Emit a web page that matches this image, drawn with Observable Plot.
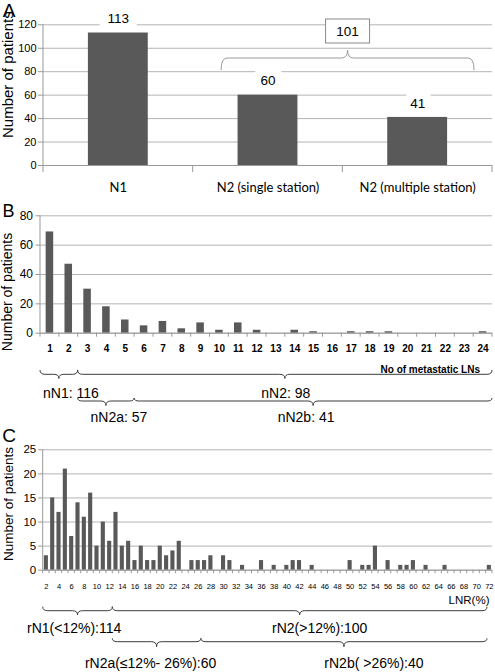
<!DOCTYPE html>
<html>
<head>
<meta charset="utf-8">
<script src="https://cdn.jsdelivr.net/npm/d3@7"></script>
<script src="https://cdn.jsdelivr.net/npm/@observablehq/plot@0.6"></script>
<style>
html,body{margin:0;padding:0;background:#fff;}
#chart{position:relative;width:495px;height:672px;overflow:hidden;background:#fff;}
#chart svg{position:absolute;left:0;overflow:visible;}
</style>
</head>
<body>
<div id="chart"></div>
<script>
// ---------------- data ----------------
// Panel A
const stageCategories = ["N1", "N2 (single station)", "N2 (multiple station)"];
const stagePatients = [113, 60, 41];
const stageGroupTotal = "101";
const stageYTicks = [0, 20, 40, 60, 80, 100, 120];

// Panel B
const lnCategories = [1, 2, 3, 4, 5, 6, 7, 8, 9, 10, 11, 12, 13, 14, 15, 16, 17, 18, 19, 20, 21, 22, 23, 24];
const lnPatients = [69, 47, 30, 18, 9, 5, 8, 3, 7, 2, 7, 2, 0, 2, 1, 0, 1, 1, 1, 0, 0, 0, 0, 1];
const lnYTicks = [0, 20, 40, 60, 80];
const lnAxisTitle = "No of metastatic LNs";
const lnGroupLabels = ["nN1: 116", "nN2: 98", "nN2a: 57", "nN2b: 41"];
const lnGroupFirst = [1, 3, 3, 6];
const lnGroupLast = [2, 24, 5, 24];

// Panel C
const lnrCategories = [2, 3, 4, 5, 6, 7, 8, 9, 10, 11, 12, 13, 14, 15, 16, 17, 18, 19, 20, 21, 22, 23, 24, 25, 26, 27, 28, 29, 30, 31, 32, 33, 34, 35, 36, 37, 38, 39, 40, 41, 42, 43, 44, 45, 46, 47, 48, 49, 50, 51, 52, 53, 54, 55, 56, 57, 58, 59, 60, 61, 62, 63, 64, 65, 66, 67, 68, 69, 70, 71, 72];
const lnrPatients = [
  3, 15, 12, 21, 7, 14, 11, 16, 5, 10,
  6, 12, 5, 6, 2, 5, 2, 2, 5, 3,
  4, 6, 0, 2, 2, 2, 3, 0, 3, 2,
  0, 1, 0, 0, 2, 0, 1, 0, 1, 2,
  2, 0, 1, 0, 0, 0, 0, 0, 2, 0,
  1, 1, 5, 0, 2, 0, 1, 1, 2, 0,
  1, 0, 0, 1, 0, 0, 0, 0, 0, 0,
  1
];
const lnrTickLabels = [2, 4, 6, 8, 10, 12, 14, 16, 18, 20, 22, 24, 26, 28, 30, 32, 34, 36, 38, 40, 42, 44, 46, 48, 50, 52, 54, 56, 58, 60, 62, 64, 66, 68, 70, 72];
const lnrYTicks = [0, 5, 10, 15, 20, 25];
const lnrAxisTitle = "LNR(%)";
const lnrGroupLabels = ["rN1(<12%):114", "rN2(>12%):100", "rN2a(\u226412%- 26%):60", "rN2b( >26%):40"];
const lnrGroupFirst = [2, 13, 13, 27];
const lnrGroupLast = [12, 72, 26, 72];

const yTitle = "Number of patients";
const panelLetters = ["A", "B", "C"];

// ---------------- styling ----------------
const FONT = "Arial, 'Liberation Sans', Helvetica, sans-serif";
const BAR = "#595959";
const GRID = "#b4b4b4";
const AXIS = "#999999";
const BRACE = "#3c3c3c";
const W = 495;
const chart = document.getElementById("chart");

function baseStyle() {
  return {fontFamily: FONT, fontSize: "11px", color: "#000", background: "transparent", overflow: "visible"};
}

function bracePath(xa, xb, xm, yEnd, yMid, yTip, r) {
  return `M${xa},${yEnd}Q${xa},${yMid} ${xa + r},${yMid}H${xm - r}Q${xm},${yMid} ${xm},${yTip}` +
         `Q${xm},${yMid} ${xm + r},${yMid}H${xb - r}Q${xb},${yMid} ${xb},${yEnd}`;
}

// y-axis line + category boundary ticks, using the plot's own scales
function axisDecor(plot, tickLen) {
  const svg = d3.select(plot);
  const X = plot.scale("x"), Y = plot.scale("y");
  const bw = X.bandwidth, step = X.step;
  const center = c => X.apply(c) + bw / 2;
  const x0 = X.range[0];
  const g = svg.append("g").attr("fill", "none").attr("stroke", AXIS);
  g.append("line").attr("x1", x0).attr("x2", x0).attr("y1", Y.apply(0)).attr("y2", Y.range[1]);
  const dom = X.domain;
  const bounds = dom.map(c => center(c) - step / 2).concat([center(dom[dom.length - 1]) + step / 2]);
  g.selectAll(null).data(bounds).join("line")
    .attr("x1", d => d).attr("x2", d => d)
    .attr("y1", Y.apply(0)).attr("y2", Y.apply(0) + tickLen);
  return {svg, X, Y, center, step};
}

const titleOpts = {textAnchor: "middle", lineAnchor: "middle", fill: "#000"};

// ---------------- Panel A ----------------
const dataA = stageCategories.map((c, i) => ({category: c, patients: stagePatients[i]}));
const plotA = Plot.plot({
  width: W, height: 200,
  marginTop: 24.3, marginRight: 3, marginBottom: 35, marginLeft: 43,
  style: baseStyle(),
  x: {domain: stageCategories, paddingInner: 0.6, paddingOuter: 0.3, align: 0.5, round: false, label: null},
  y: {domain: [0, 120], label: null},
  marks: [
    Plot.gridY(stageYTicks, {stroke: GRID, strokeOpacity: 1}),
    Plot.text(dataA, {x: "category", y: "patients", text: d => String(d.patients), dy: -14, fontSize: 13.5, fill: "#fff", stroke: "#fff", strokeWidth: 18}),
    Plot.barY(dataA, {x: "category", y: "patients", fill: BAR}),
    Plot.ruleY([0], {stroke: AXIS}),
    Plot.axisY(stageYTicks, {tickSize: 5, tickPadding: 2, stroke: AXIS, fill: "#000", fontSize: 11, label: null}),
    Plot.axisX({tickSize: 0, tickPadding: 17, fontFamily: "Lato, 'Open Sans', sans-serif", fontSize: 13, fill: "#000", label: null}),
    Plot.text(dataA, {x: "category", y: "patients", text: d => String(d.patients), dy: -14, fontSize: 13.5, fill: "#000"}),
    Plot.text([yTitle], {frameAnchor: "left", rotate: -90, dx: -35, dy: -20.5, fontSize: 15, ...titleOpts}),
    Plot.text([panelLetters[0]], {frameAnchor: "top-left", dx: -34.5, dy: -14.3, fontSize: 19, ...titleOpts})
  ]
});
plotA.style.top = "0px";
chart.appendChild(plotA);
{
  const {svg, center, step} = axisDecor(plotA, 7);
  const xa = center(stageCategories[1]) - 0.31 * step;
  const xb = center(stageCategories[2]) + 0.38 * step;
  const xm = (xa + xb) / 2;
  svg.append("path").attr("d", bracePath(xa, xb, xm, 70, 58, 50, 6))
    .attr("fill", "none").attr("stroke", "#9a9a9a").attr("stroke-width", 1);
  svg.append("rect").attr("x", xm - 22).attr("y", 19).attr("width", 44).attr("height", 24)
    .attr("fill", "#fff").attr("stroke", "#8a8a8a");
  svg.append("text").attr("x", xm).attr("y", 31).attr("dy", "0.35em").attr("text-anchor", "middle")
    .attr("font-family", FONT).attr("font-size", 13.5).text(stageGroupTotal);
}

// ---------------- Panel B ----------------
const dataB = lnCategories.map((c, i) => ({n: c, patients: lnPatients[i]}));
const plotB = Plot.plot({
  width: W, height: 225,
  marginTop: 15.3, marginRight: 3, marginBottom: 92.3, marginLeft: 40,
  style: baseStyle(),
  x: {domain: lnCategories, paddingInner: 0.6, paddingOuter: 0.3, align: 0.5, round: false, label: null},
  y: {domain: [0, 80], label: null},
  marks: [
    Plot.gridY(lnYTicks, {stroke: GRID, strokeOpacity: 1}),
    Plot.barY(dataB, {x: "n", y: "patients", fill: BAR}),
    Plot.ruleY([0], {stroke: AXIS}),
    Plot.axisY(lnYTicks, {tickSize: 4.5, tickPadding: 3, stroke: AXIS, fill: "#000", fontSize: 12, label: null}),
    Plot.axisX({tickSize: 0, tickPadding: 12, fontSize: 10, fontWeight: "bold", fill: "#000", label: null}),
    Plot.text([lnAxisTitle], {frameAnchor: "bottom-right", textAnchor: "end", lineAnchor: "middle", dx: -12.5, dy: 36.3, fontSize: 10, fontWeight: "bold", fill: "#000"}),
    Plot.text([yTitle], {frameAnchor: "left", rotate: -90, dx: -32.5, dy: 17.5, fontSize: 14, ...titleOpts}),
    Plot.text([panelLetters[1]], {frameAnchor: "top-left", dx: -32, dy: -4.8, fontSize: 18, ...titleOpts})
  ]
});
plotB.style.top = "200px";
chart.appendChild(plotB);
{
  const {svg, X, center, step} = axisDecor(plotB, 4);
  const rows = [[170, 174.3, 178.5], [198, 201, 205.5]];
  const labelY = [193, 217];
  const groupRow = [0, 0, 1, 1];
  const labelDx = [0, 1, 13, -7];
  const g = svg.append("g");
  lnGroupLabels.forEach((label, i) => {
    const xa = center(lnGroupFirst[i]) - step / 2;
    const xb = center(lnGroupLast[i]) + step / 2;
    const xm = (xa + xb) / 2;
    const [ye, ym, yt] = rows[groupRow[i]];
    g.append("path").attr("d", bracePath(xa, xb, xm, ye, ym, yt, 5))
      .attr("fill", "none").attr("stroke", BRACE).attr("stroke-width", 1);
    const t = g.append("text").attr("y", labelY[groupRow[i]]).attr("dy", "0.35em")
      .attr("font-family", FONT).attr("font-size", 14).attr("fill", "#000").text(label);
    if (i === 0) t.attr("x", X.range[0] + 3).attr("text-anchor", "start");
    else t.attr("x", xm + labelDx[i]).attr("text-anchor", "middle");
  });
}

// ---------------- Panel C ----------------
const dataC = lnrCategories.map((c, i) => ({lnr: c, patients: lnrPatients[i]}));
const plotC = Plot.plot({
  width: W, height: 247,
  marginTop: 24.3, marginRight: 3, marginBottom: 102.3, marginLeft: 42.7,
  style: baseStyle(),
  x: {domain: lnrCategories, paddingInner: 0.35, paddingOuter: 0.175, align: 0.5, round: false, label: null},
  y: {domain: [0, 25], label: null},
  marks: [
    Plot.gridY(lnrYTicks, {stroke: GRID, strokeOpacity: 1}),
    Plot.barY(dataC, {x: "lnr", y: "patients", fill: BAR}),
    Plot.ruleY([0], {stroke: AXIS}),
    Plot.axisY(lnrYTicks, {tickSize: 4.5, tickPadding: 2.5, stroke: AXIS, fill: "#000", fontSize: 11.5, label: null}),
    Plot.axisX(lnrTickLabels, {tickSize: 0, tickPadding: 13, fontSize: 7.5, fill: "#000", label: null}),
    Plot.text([lnrAxisTitle], {frameAnchor: "bottom-right", textAnchor: "end", lineAnchor: "middle", dx: -3, dy: 30.3, fontSize: 11.5, fill: "#000"}),
    Plot.text([yTitle], {frameAnchor: "left", rotate: -90, dx: -34.2, dy: -6, fontSize: 13.5, ...titleOpts}),
    Plot.text([panelLetters[2]], {frameAnchor: "top-left", dx: -34.2, dy: -13.8, fontSize: 19, ...titleOpts})
  ]
});
plotC.style.top = "425px";
chart.appendChild(plotC);
{
  const {svg, X, center, step} = axisDecor(plotC, 3.5);
  const rows = [[181.7, 185.7, 190], [213.3, 216.7, 221.7]];
  const labelY = [203.3, 238.3];
  const groupRow = [0, 0, 1, 1];
  const endInset = [0, 5, 0, 5];
  const labelDx = [0, 20, -6, 30];
  const g = svg.append("g");
  lnrGroupLabels.forEach((label, i) => {
    const xa = center(lnrGroupFirst[i]) - step / 2;
    const xb = center(lnrGroupLast[i]) + step / 2 - endInset[i];
    const xm = (xa + xb) / 2;
    const [ye, ym, yt] = rows[groupRow[i]];
    g.append("path").attr("d", bracePath(xa, xb, xm, ye, ym, yt, 5))
      .attr("fill", "none").attr("stroke", BRACE).attr("stroke-width", 1);
    const t = g.append("text").attr("y", labelY[groupRow[i]]).attr("dy", "0.35em")
      .attr("font-family", FONT).attr("font-size", 14).attr("fill", "#000").text(label);
    if (i === 0) t.attr("x", X.range[0] - 15.7).attr("text-anchor", "start");
    else t.attr("x", xm + labelDx[i]).attr("text-anchor", "middle");
  });
}
</script>
</body>
</html>
